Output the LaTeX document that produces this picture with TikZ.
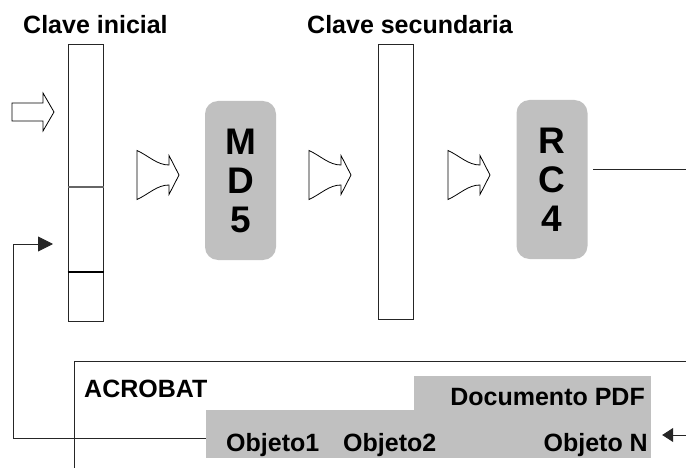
\documentclass[tikz,border=0pt]{standalone}
\usepackage{fontspec}
\setmainfont{Liberation Sans}
\usetikzlibrary{arrows.meta}
\definecolor{boxgray}{HTML}{C0C0C0}
\tikzset{
  px/.style={x=1pt,y=-1pt},
  colbox/.style={draw=black!85,line width=1pt,fill=white,inner sep=0pt,minimum width=35pt},
  cipher/.style={fill=boxgray,rounded corners=13pt,inner sep=0pt,minimum width=71pt,minimum height=159pt,
     align=center,font=\bfseries\fontsize{37}{39}\selectfont},
  lbl/.style={inner sep=0pt,font=\bfseries\fontsize{25}{29}\selectfont},
  hollow/.style={draw=black,line width=0.8pt,fill=white,line join=miter},
  grayfill/.style={fill=boxgray,inner sep=0pt},
  thin/.style={draw=black!85,line width=0.9pt},
  curvarrow/.pic={
    \draw[hollow] (0,-24.5) .. controls (12,-19) and (20,-10) .. (32,-10) -- (32,-19.5) -- (42,0)
      -- (32,19.5) -- (32,10) .. controls (20,10) and (12,19) .. (0,24.5) -- cycle;
  }
}
\begin{document}
\begin{tikzpicture}[px]
\useasboundingbox (0,0) rectangle (686,468);
% titles
\node[lbl,anchor=base west] (t1) at (23,34) {Clave inicial};
\node[lbl,anchor=base west] (t2) at (307,34) {Clave secundaria};
% key columns
\node[colbox,minimum height=276pt] (ki) at (85.5,183) {};
\draw[draw=black!60,line width=1.2pt] (ki.west |- 0,187) -- (ki.east |- 0,187);
\draw[draw=black,line width=1.6pt] (ki.west |- 0,272) -- (ki.east |- 0,272);
\node[colbox,minimum height=274pt] (ks) at (396,182) {};
% cipher boxes
\node[cipher] (md5) at (240.5,180.5) {M\\D\\5};
\node[cipher] (rc4) at (552,179.5) {R\\C\\4};
% hollow arrows
\draw[hollow] (12,103) -- (43,103) -- (43,93) -- (54,112) -- (43,131) -- (43,121) -- (12,121) -- cycle;
\pic at (137,175) {curvarrow};
\pic at (309,175) {curvarrow};
\pic at (448,175) {curvarrow};
% output line of RC4
\coordinate (rcout) at (593,169);
\coordinate (rcend) at (686,169);
\draw[thin] (rcout) -- (rcend);
% Acrobat frame
\coordinate (fr1) at (686,361);
\coordinate (fr2) at (74,361);
\coordinate (fr3) at (74,468);
\draw[thin] (fr1) -- (fr2) -- (fr3);
\node[lbl,anchor=base west] (acro) at (84,397) {ACROBAT};
% document PDF
\node[grayfill,minimum width=445pt,minimum height=48pt] (objs) at (428.5,434) {};
\node[grayfill,minimum width=237pt,minimum height=35pt] (doc) at (532.5,393.5) {};
\node[lbl,anchor=base east] (doct) at (645,405) {Documento PDF};
\node[lbl,anchor=base west] (o1) at (226,451) {Objeto1};
\node[lbl,anchor=base west] (o2) at (343,451) {Objeto2};
\node[lbl,anchor=base east] (on) at (648,451) {Objeto N};
% feedback connector
\coordinate (fbend) at (53,244);
\draw[thin,-{Triangle[length=15pt,width=15pt]}] ([yshift=-4pt]objs.west) -| (13,244) -- (fbend);
% input to Objeto N
\coordinate (inN) at (686,435);
\draw[thin,-{Triangle[length=11pt,width=14pt]}] (inN) -- ([xshift=11pt]objs.east |- inN);
\end{tikzpicture}
\end{document}
